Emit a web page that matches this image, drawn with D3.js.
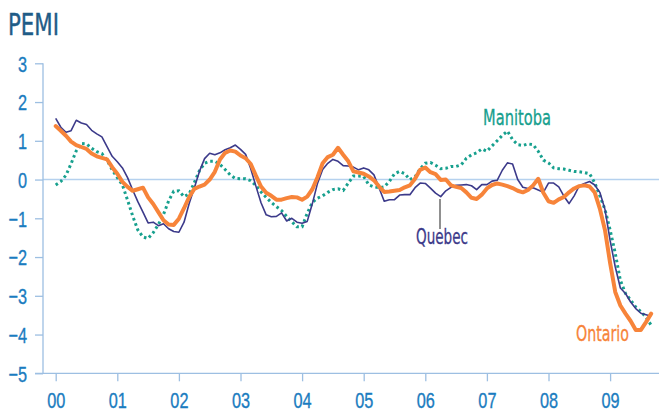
<!DOCTYPE html>
<html>
<head>
<meta charset="utf-8">
<script src="https://cdn.jsdelivr.net/npm/d3@7/dist/d3.min.js"></script>
<style>
  html, body { margin: 0; padding: 0; background: #fff; }
  svg { display: block; font-family: "DejaVu Sans Condensed", "DejaVu Sans", sans-serif; }
</style>
</head>
<body>
<svg id="chart" width="659" height="412"></svg>
<script>
// ---- data (monthly, Jan 2000 – Sep 2009) ----
const startYear = 2000;
const yearTicks = [2000, 2001, 2002, 2003, 2004, 2005, 2006, 2007, 2008, 2009];
const yearLabels = ["00", "01", "02", "03", "04", "05", "06", "07", "08", "09"];
const yTicks = [3, 2, 1, 0, -1, -2, -3, -4, -5];

const ontario = [
  1.38, 1.26, 1.13, 0.98, 0.89, 0.84, 0.79, 0.67, 0.60, 0.56, 0.52, 0.32,
  0.15, -0.06, -0.19, -0.29, -0.25, -0.21, -0.46, -0.63, -0.84, -1.05, -1.16, -1.17,
  -1.01, -0.74, -0.45, -0.24, -0.18, -0.13, 0.00, 0.20, 0.52, 0.69, 0.75, 0.72,
  0.62, 0.55, 0.40, 0.10, -0.18, -0.34, -0.42, -0.52, -0.52, -0.48, -0.45, -0.46,
  -0.52, -0.44, -0.25, 0.06, 0.42, 0.58, 0.64, 0.82, 0.64, 0.47, 0.21, 0.18,
  0.15, 0.08, -0.02, -0.18, -0.32, -0.31, -0.29, -0.27, -0.20, -0.15, 0.02, 0.25,
  0.31, 0.19, 0.14, -0.01, 0.00, -0.15, -0.19, -0.22, -0.33, -0.47, -0.50, -0.39,
  -0.23, -0.14, -0.10, -0.13, -0.17, -0.22, -0.29, -0.33, -0.27, -0.15, 0.02, -0.34,
  -0.56, -0.60, -0.51, -0.45, -0.33, -0.23, -0.17, -0.15, -0.18, -0.33, -0.75, -1.30,
  -2.15, -2.90, -3.25, -3.46, -3.65, -3.88, -3.88, -3.68, -3.46
];
const quebec = [
  1.58, 1.35, 1.22, 1.26, 1.53, 1.46, 1.42, 1.27, 1.18, 1.10, 0.85, 0.60,
  0.46, 0.30, 0.05, -0.27, -0.57, -0.84, -1.12, -1.10, -1.19, -1.14, -1.27, -1.34,
  -1.36, -1.10, -0.62, -0.22, 0.21, 0.54, 0.68, 0.64, 0.69, 0.77, 0.82, 0.89,
  0.78, 0.65, 0.28, -0.17, -0.60, -0.91, -0.96, -0.95, -0.86, -1.07, -1.00, -1.10,
  -1.13, -1.08, -0.62, -0.10, 0.26, 0.42, 0.52, 0.47, 0.36, 0.35, 0.32, 0.25,
  0.30, 0.25, 0.12, -0.22, -0.56, -0.52, -0.52, -0.40, -0.39, -0.39, -0.21, -0.09,
  -0.10, -0.22, -0.35, -0.44, -0.29, -0.20, -0.15, -0.14, -0.13, -0.16, -0.26, -0.13,
  -0.13, -0.04, -0.02, 0.24, 0.43, 0.40, 0.00, -0.20, -0.23, -0.21, -0.27, -0.33,
  -0.09, -0.09, -0.19, -0.43, -0.62, -0.42, -0.16, -0.10, -0.05, -0.14, -0.33, -0.77,
  -1.57, -2.25, -2.80, -2.94, -3.16, -3.33, -3.45, -3.49, -3.53
];
const manitoba = [
  -0.14, -0.05, 0.11, 0.41, 0.74, 0.93, 0.92, 0.81, 0.72, 0.67, 0.50, 0.25,
  0.05, -0.14, -0.53, -0.94, -1.30, -1.48, -1.52, -1.37, -1.16, -0.90, -0.55, -0.30,
  -0.29, -0.44, -0.37, -0.08, 0.23, 0.42, 0.47, 0.47, 0.39, 0.26, 0.12, 0.03,
  0.02, 0.02, -0.03, -0.15, -0.32, -0.46, -0.59, -0.70, -0.80, -0.95, -1.09, -1.22,
  -1.22, -0.87, -0.59, -0.48, -0.42, -0.33, -0.26, -0.24, -0.28, -0.09, 0.09, 0.09,
  0.08, -0.14, -0.19, -0.21, -0.19, -0.05, 0.15, 0.21, 0.15, 0.00, 0.07, 0.28,
  0.42, 0.44, 0.37, 0.28, 0.29, 0.34, 0.34, 0.38, 0.55, 0.64, 0.69, 0.79,
  0.73, 0.87, 1.00, 1.14, 1.25, 1.03, 0.90, 0.88, 0.92, 0.90, 0.73, 0.50,
  0.43, 0.30, 0.28, 0.27, 0.24, 0.21, 0.20, 0.18, 0.15, -0.08, -0.42, -0.77,
  -1.30, -1.90, -2.60, -2.94, -3.11, -3.29, -3.41, -3.55, -3.76
];
const seriesNames = ["Manitoba", "Quebec", "Ontario"];

// ---- layout ----
const svg = d3.select("#chart");
const x = d3.scaleLinear().domain([2000, 2010]).range([55.7, 671.7]);
const y = d3.scaleLinear().domain([-5, 3]).range([373.3, 63.3]);
const dateOf = i => startYear + i / 12;
const squeeze = 0.74; // condensed look

const colors = {
  title: "#1f5c87",
  tickText: "#1a7cc0",
  axis: "#9dbfe2",
  zero: "#b5d1ee",
  Manitoba: "#17a08e",
  Quebec: "#3c3a8a",
  Ontario: "#f7843a"
};

function condense(sel, factor) {
  sel.each(function () {
    const w = this.getComputedTextLength();
    d3.select(this).attr("textLength", w * factor).attr("lengthAdjust", "spacingAndGlyphs");
  });
}

// title
svg.append("text")
  .attr("x", 8).attr("y", 35)
  .attr("font-size", 30)
  .attr("fill", colors.title)
  .attr("stroke", colors.title).attr("stroke-width", 0.4)
  .text("PEMI")
  .attr("textLength", 51).attr("lengthAdjust", "spacingAndGlyphs");

// zero line
svg.append("line")
  .attr("x1", 43).attr("x2", 659)
  .attr("y1", y(0)).attr("y2", y(0))
  .attr("stroke", colors.zero).attr("stroke-width", 1.5);

// y axis
const yAxis = d3.axisLeft(y).tickValues(yTicks).tickSize(8).tickPadding(8)
  .tickFormat(d3.format("d"));
const gy = svg.append("g").attr("transform", "translate(43,0)").call(yAxis);
gy.select(".domain").attr("stroke", colors.axis).attr("stroke-width", 1.3)
  .attr("d", `M0,${y(3)}V${y(-5)}`);
gy.selectAll(".tick line").attr("stroke", colors.axis).attr("stroke-width", 1.3);
gy.selectAll(".tick text").attr("fill", colors.tickText).attr("font-size", 22)
  .attr("stroke", colors.tickText).attr("stroke-width", 0.35)
  .attr("font-family", null).attr("dy", "0.36em").call(condense, squeeze);

// x axis
const xAxis = d3.axisBottom(x).tickValues(yearTicks).tickSize(8).tickPadding(11)
  .tickFormat((d, i) => yearLabels[i]);
const gx = svg.append("g").attr("transform", `translate(0,${y(-5)})`).call(xAxis);
gx.select(".domain").attr("stroke", colors.axis).attr("stroke-width", 1.3)
  .attr("d", "M35,0H659");
gx.selectAll(".tick line").attr("stroke", colors.axis).attr("stroke-width", 1.3);
gx.selectAll(".tick text").attr("fill", colors.tickText).attr("font-size", 22)
  .attr("stroke", colors.tickText).attr("stroke-width", 0.35)
  .attr("font-family", null).call(condense, squeeze);

// lines
const line = d3.line().x((d, i) => x(dateOf(i))).y(d => y(d));

svg.append("path").datum(manitoba)
  .attr("d", line).attr("fill", "none")
  .attr("stroke", colors.Manitoba).attr("stroke-width", 3)
  .attr("stroke-dasharray", "2.6,3");

svg.append("path").datum(quebec)
  .attr("d", line).attr("fill", "none")
  .attr("stroke", colors.Quebec).attr("stroke-width", 1.6)
  .attr("stroke-linejoin", "round");

svg.append("path").datum(ontario)
  .attr("d", line).attr("fill", "none")
  .attr("stroke", colors.Ontario).attr("stroke-width", 4)
  .attr("stroke-linejoin", "round").attr("stroke-linecap", "round");

// series labels
svg.append("text").attr("x", 517).attr("y", 125)
  .attr("text-anchor", "middle").attr("font-size", 22)
  .attr("fill", colors.Manitoba).attr("stroke", colors.Manitoba).attr("stroke-width", 0.3)
  .text(seriesNames[0])
  .attr("textLength", 68).attr("lengthAdjust", "spacingAndGlyphs");

svg.append("line")
  .attr("x1", 440).attr("x2", 440).attr("y1", 199).attr("y2", 229)
  .attr("stroke", "#6b6b6b").attr("stroke-width", 1.5);
svg.append("text").attr("x", 442).attr("y", 244)
  .attr("text-anchor", "middle").attr("font-size", 22)
  .attr("fill", colors.Quebec).attr("stroke", colors.Quebec).attr("stroke-width", 0.3)
  .text(seriesNames[1])
  .attr("textLength", 52).attr("lengthAdjust", "spacingAndGlyphs");

svg.append("text").attr("x", 629).attr("y", 341)
  .attr("text-anchor", "end").attr("font-size", 22)
  .attr("fill", colors.Ontario).attr("stroke", colors.Ontario).attr("stroke-width", 0.3)
  .text(seriesNames[2])
  .attr("textLength", 53).attr("lengthAdjust", "spacingAndGlyphs");
</script>
</body>
</html>
